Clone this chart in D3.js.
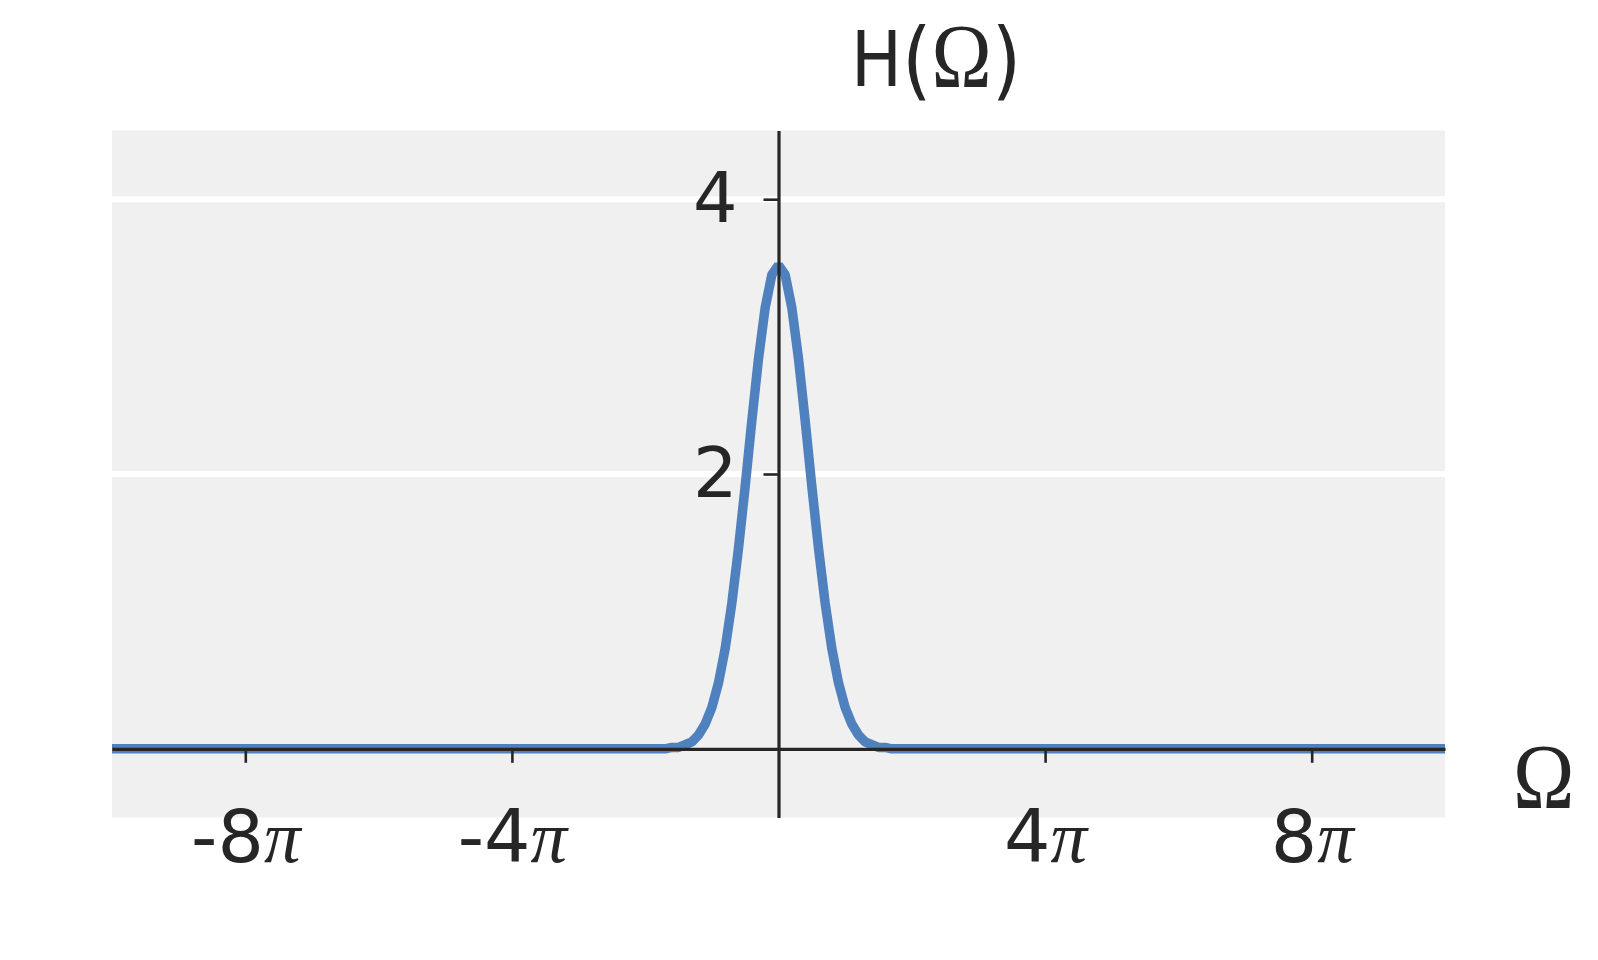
<!DOCTYPE html>
<html>
<head>
<meta charset="utf-8">
<script src="https://cdn.jsdelivr.net/npm/d3@7"></script>
<style>
    body { margin: 0; background: #ffffff; }
    svg text { fill: #262626; }
</style>
</head>
<body>
<div id="chart"></div>
<script>
"use strict";

// frequency, in multiples of pi (the flat tails are 0 out to +-10 pi)
const omegaOverPi = [
    -10, -2.0, -1.9, -1.8, -1.7, -1.6, -1.5, -1.4, -1.3, -1.2, -1.1,
    -1.0, -0.9, -0.8, -0.7, -0.6, -0.5, -0.4, -0.3, -0.2, -0.1,
    0,
    0.1, 0.2, 0.3, 0.4, 0.5, 0.6, 0.7, 0.8, 0.9, 1.0,
    1.1, 1.2, 1.3, 1.4, 1.5, 1.6, 1.7, 1.8, 1.9, 2.0, 10
];

// H(Omega)
const hValues = [
    0, 0, 0, 0, 0, 0.01, 0.01, 0.03, 0.05, 0.10, 0.18,
    0.30, 0.48, 0.73, 1.06, 1.46, 1.91, 2.39, 2.84, 3.21, 3.45,
    3.52,
    3.45, 3.21, 2.84, 2.39, 1.91, 1.46, 1.06, 0.73, 0.48, 0.30,
    0.18, 0.10, 0.05, 0.03, 0.01, 0.01, 0, 0, 0, 0, 0
];

const xTickValues = [-8, -4, 4, 8];
const xTickLabels = ["-8", "-4", "4", "8"];
const yTickValues = [2, 4];
const yTickLabels = ["2", "4"];

const width = 1598, height = 960;
const plot = { left: 112, right: 1445, top: 130.5, bottom: 817.5 };

const svg = d3.select("#chart")
    .append("svg")
    .attr("width", width)
    .attr("height", height);

const x = d3.scaleLinear()
    .domain([-10, 10])
    .range([plot.left, plot.right]);

const y = d3.scaleLinear()
    .domain([-0.5, 4.5])
    .range([plot.bottom, plot.top]);

// background
svg.append("rect")
    .attr("x", plot.left)
    .attr("y", plot.top)
    .attr("width", plot.right - plot.left)
    .attr("height", plot.bottom - plot.top)
    .attr("fill", "#f0f0f0");

// horizontal grid
svg.append("g")
    .selectAll("line")
    .data(yTickValues)
    .join("line")
    .attr("x1", plot.left)
    .attr("x2", plot.right)
    .attr("y1", d => y(d))
    .attr("y2", d => y(d))
    .attr("stroke", "#ffffff")
    .attr("stroke-width", 6);

// the curve
const points = omegaOverPi.map((w, i) => [w, hValues[i]]);

svg.append("path")
    .datum(points)
    .attr("fill", "none")
    .attr("stroke", "#4e81bd")
    .attr("stroke-width", 9.5)
    .attr("stroke-linejoin", "bevel")
    .attr("d", d3.line()
        .x(d => x(d[0]))
        .y(d => y(d[1]))
    );

// axes through the origin
const xAxis = svg.append("g")
    .attr("transform", "translate(0," + y(0) + ")")
    .call(d3.axisBottom(x)
        .tickValues(xTickValues)
        .tickSize(14)
        .tickSizeOuter(0)
        .tickPadding(47))
    .attr("font-size", 73);

xAxis.selectAll("text").each(function(d, i) {
    const t = d3.select(this).text(null);
    t.append("tspan")
        .attr("font-family", "DejaVu Sans")
        .text(xTickLabels[i]);
    t.append("tspan")
        .attr("font-family", "Liberation Serif")
        .attr("font-style", "italic")
        .text("\u03c0");
});

const yAxis = svg.append("g")
    .attr("transform", "translate(" + x(0) + ",0)")
    .call(d3.axisLeft(y)
        .tickValues(yTickValues)
        .tickFormat((d, i) => yTickLabels[i])
        .tickSize(15)
        .tickSizeOuter(0)
        .tickPadding(26))
    .attr("font-size", 70);

[xAxis, yAxis].forEach(function(g) {
    g.attr("font-family", "DejaVu Sans");
    g.select(".domain")
        .attr("stroke", "#262626")
        .attr("stroke-width", 3.2);
    g.selectAll(".tick line")
        .attr("stroke", "#262626")
        .attr("stroke-width", 2.6);
    g.selectAll(".tick text")
        .attr("fill", "#262626");
});

// y label, H(Omega), above the plot
const title = svg.append("text")
    .attr("transform", "translate(851,0) scale(0.88,1)")
    .attr("y", 86)
    .attr("font-family", "DejaVu Sans")
    .attr("font-size", 77);
title.append("tspan").text("H");
title.append("tspan").attr("font-size", 86).attr("dy", 3).text("(");
title.append("tspan")
    .attr("font-family", "Liberation Serif")
    .attr("font-size", 92)
    .attr("dy", -2)
    .text("\u03a9");
title.append("tspan").attr("font-size", 86).attr("dy", 2).text(")");

// x label
svg.append("text")
    .attr("transform", "translate(1513,808) scale(0.88,1)")
    .attr("font-family", "Liberation Serif")
    .attr("font-size", 94)
    .text("\u03a9");
</script>
</body>
</html>
